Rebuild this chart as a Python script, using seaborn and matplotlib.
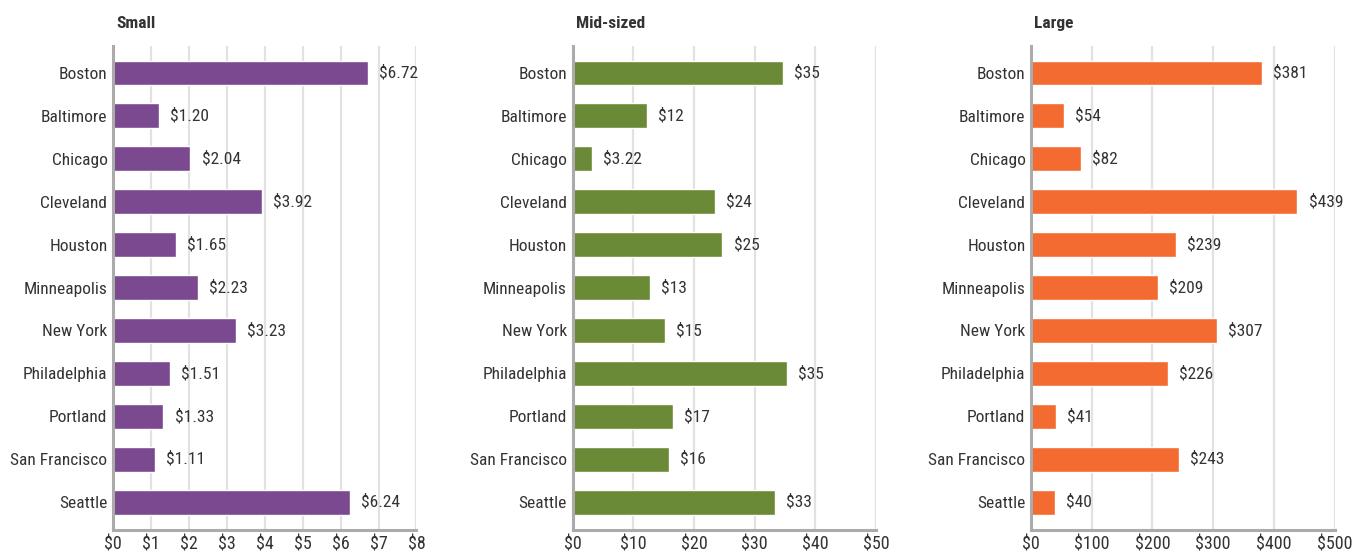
import pandas as pd
import matplotlib.pyplot as plt
import seaborn as sns

sns.set_style("white")
plt.rcParams['font.family'] = ['Roboto Condensed', 'Archivo Narrow', 'DejaVu Sans']

# data
cities = ["Boston", "Baltimore", "Chicago", "Cleveland", "Houston", "Minneapolis",
          "New York", "Philadelphia", "Portland", "San Francisco", "Seattle"]

small_vals = [6.72, 1.20, 2.04, 3.92, 1.65, 2.23, 3.23, 1.51, 1.33, 1.11, 6.24]
small_labels = ["$6.72", "$1.20", "$2.04", "$3.92", "$1.65", "$2.23", "$3.23",
                "$1.51", "$1.33", "$1.11", "$6.24"]

mid_vals = [34.7, 12.3, 3.22, 23.5, 24.7, 12.8, 15.3, 35.4, 16.6, 15.9, 33.4]
mid_labels = ["$35", "$12", "$3.22", "$24", "$25", "$13", "$15", "$35", "$17", "$16", "$33"]

large_vals = [381, 54, 82, 439, 239, 209, 307, 226, 41, 243, 40]
large_labels = ["$381", "$54", "$82", "$439", "$239", "$209", "$307", "$226", "$41", "$243", "$40"]

small_ticks = [0, 1, 2, 3, 4, 5, 6, 7, 8]
mid_ticks = [0, 10, 20, 30, 40, 50]
large_ticks = [0, 100, 200, 300, 400, 500]

panels = [
    ("Small", small_vals, small_labels, small_ticks, "#7B498F", 113),
    ("Mid-sized", mid_vals, mid_labels, mid_ticks, "#6A8A38", 572.5),
    ("Large", large_vals, large_labels, large_ticks, "#F36B30", 1031),
]

W, H = 1352, 552
fig = plt.figure(figsize=(W / 100, H / 100), dpi=100)
text_col = "#333333"

for title, vals, labels, ticks, color, left in panels:
    ax = fig.add_axes([left / W, 1 - 530 / H, 303.5 / W, 484 / H])
    df = pd.DataFrame({"city": cities, "value": vals})
    sns.barplot(data=df, x="value", y="city", color=color, saturation=1,
                width=0.58, ax=ax)
    ax.bar_label(ax.containers[0], labels=labels, padding=8,
                 fontsize=12.5, color=text_col)
    ax.set_xlim(ticks[0], ticks[-1])
    ax.set_ylim(10.65, -0.63)
    ax.set_xticks(ticks)
    ax.set_xticklabels([f"${t}" for t in ticks], fontsize=13, color=text_col)
    ax.tick_params(axis="y", labelsize=12.5, labelcolor=text_col, length=0, pad=4)
    ax.tick_params(axis="x", length=0, pad=4)
    ax.set_xlabel("")
    ax.set_ylabel("")
    ax.grid(axis="x", color="#e2e2e2", linewidth=1.6)
    ax.set_axisbelow(True)
    for s in ["top", "right"]:
        ax.spines[s].set_visible(False)
    for s in ["left", "bottom"]:
        ax.spines[s].set_color("#ababab")
        ax.spines[s].set_linewidth(2.2)
    ax.text(0.01, 1.038, title, transform=ax.transAxes, fontsize=12.5,
            fontweight="bold", color=text_col, ha="left", va="baseline")

fig.savefig("out.png", dpi=100)
